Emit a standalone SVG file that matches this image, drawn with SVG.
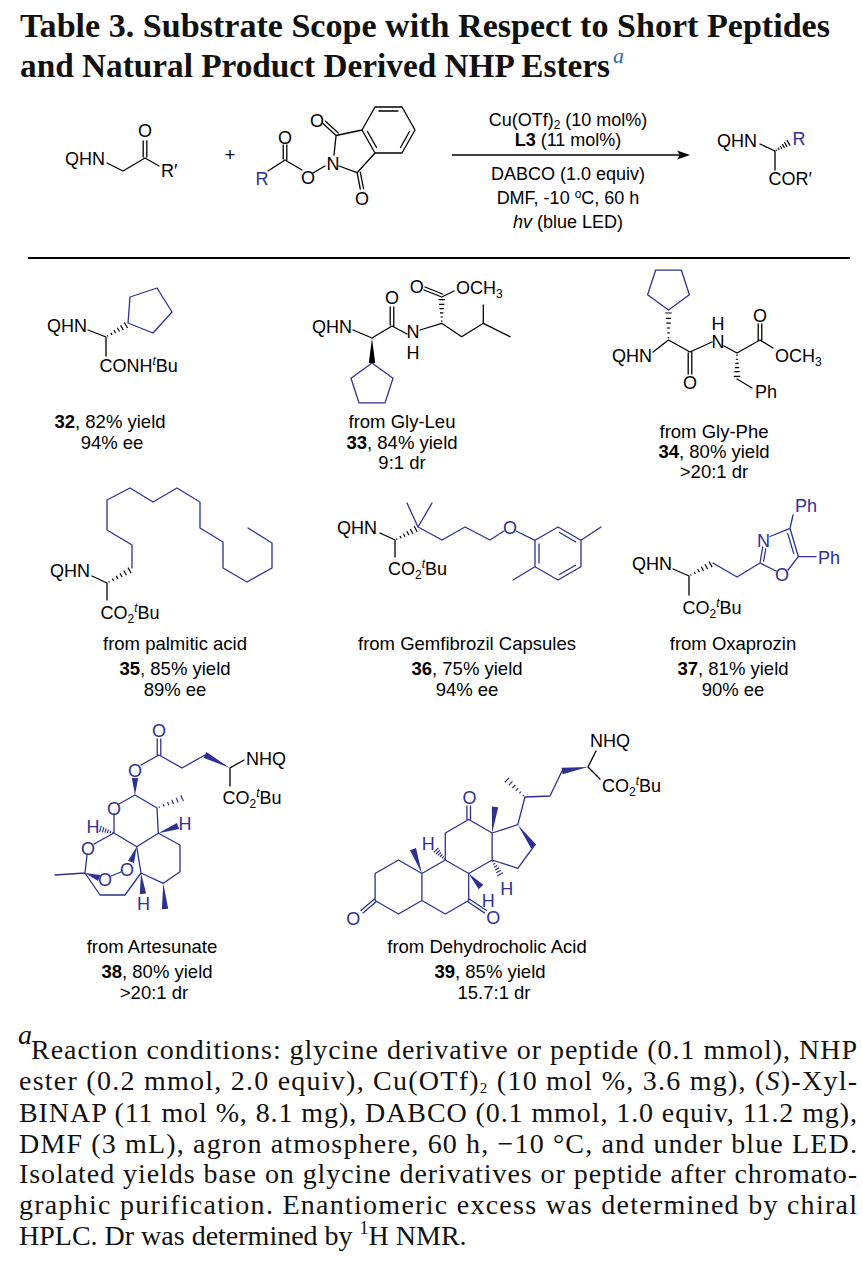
<svg xmlns="http://www.w3.org/2000/svg" xmlns:xlink="http://www.w3.org/1999/xlink" width="863" height="1277" viewBox="0 0 863 1277">
<style>
.k{stroke:#000;stroke-width:1.3;fill:none;stroke-linecap:round;stroke-linejoin:round}
.u{stroke:#2e3192;stroke-width:1.3;fill:none;stroke-linecap:round;stroke-linejoin:round}
.t{font-family:"Liberation Sans",Arial,sans-serif;font-size:18px;fill:#000}
.tu{fill:#2e3192}
.m{text-anchor:middle}
.lab{font-family:"Liberation Sans",Arial,sans-serif;font-size:18.5px;text-anchor:middle;fill:#000}
.fn{font-family:"Liberation Serif","Times New Roman",serif;font-size:28px;fill:#111}
.ttl{font-family:"Liberation Serif","Times New Roman",serif;font-weight:bold;font-size:33px;fill:#111}
.ck{color:#000}
.cu{color:#2e3192}
.sb{font-size:12px}
.it{font-style:italic}
</style>
<defs>
<g id="hs"><path d="M2,-0.7V0.7M6,-1.2V1.2M10,-1.7V1.7M14,-2.2V2.2M18,-2.7V2.7M22.5,-3.2V3.2" stroke="currentColor" stroke-width="1.2" vector-effect="non-scaling-stroke" fill="none"/></g>
<polygon id="wd" points="0,0 25,-3.2 25,3.2" fill="currentColor"/>
</defs>
<rect width="863" height="1277" fill="#fff"/>

<g id="title">
<text class="ttl" x="20" y="37" textLength="810" lengthAdjust="spacingAndGlyphs">Table 3. Substrate Scope with Respect to Short Peptides</text>
<text class="ttl" x="20" y="77" textLength="590" lengthAdjust="spacingAndGlyphs">and Natural Product Derived NHP Esters</text>
<text x="613" y="63" font-family="Liberation Serif, serif" font-style="italic" font-size="22" fill="#3366b0">a</text>
</g>

<g id="reactant-glycine">
<text class="t" x="65" y="164.5">QHN</text>
<path class="k" d="M107,163 L123,171 L145,158 L159,166 M143.2,157 V141 M146.8,157 V141"/>
<text class="t m" x="145" y="137">O</text>
<text class="t" x="161" y="177">R′</text>
</g>
<text id="plus" class="t m" x="230" y="161">+</text>

<g id="reactant-nhp">
<text class="t tu m" x="262" y="184.5">R</text>
<path class="k" d="M268,171 L285,160 L302,170 M283.2,159 V145 M286.8,160 V145 M313,173 L325,166"/>
<text class="t m" x="285" y="143.5">O</text>
<text class="t m" x="308" y="183.5">O</text>
<text class="t m" x="333" y="169.5">N</text>
<path class="k" d="M334,155 L336.1,135.5 L362,130 M339,166 L357.1,172.7 L375,153 M336.1,135.5 L323,123.5 M338.3,133.1 L325.5,121.3 M357.1,172.7 L360.3,189 M360.3,172.1 L363.5,188.5 M362,130 L375,107 L402,107 L415,130 L402,153 L375,153 Z M379,111 L398,111 M409.5,131.5 L400.5,147.5 M367.5,131.5 L376.5,147.5"/>
<text class="t m" x="317" y="126.5">O</text>
<text class="t m" x="362" y="204.5">O</text>
</g>

<g id="conditions">
<text class="t m" x="568" y="126">Cu(OTf)<tspan class="sb" dy="3">2</tspan><tspan dy="-3"> (10 mol%)</tspan></text>
<text class="t m" x="568" y="145.5"><tspan font-weight="bold">L3</tspan> (11 mol%)</text>
<text class="t m" x="568" y="179.5">DABCO (1.0 equiv)</text>
<text class="t m" x="568" y="204">DMF, -10 <tspan class="sb" dy="-6">o</tspan><tspan dy="6">C, 60 h</tspan></text>
<text class="t m" x="568" y="228"><tspan class="it">hv</tspan> (blue LED)</text>
</g>

<g id="connectors">
<line x1="452" y1="155" x2="680" y2="155" stroke="#000" stroke-width="1.6"/>
<polygon points="690,155 677,150.5 680,155 677,159.5" fill="#000"/>
</g>

<g id="product">
<text class="t" x="717" y="146.5">QHN</text>
<path class="k" d="M760,144 L775,151 V170"/>
<use xlink:href="#hs" class="ck" transform="translate(775,151) rotate(-31) scale(0.7,1)"/>
<text class="t tu m" x="799" y="144.5">R</text>
<text class="t" x="768.5" y="184.5">COR′</text>
</g>

<line id="rule" x1="28" y1="258" x2="850" y2="258" stroke="#000" stroke-width="2.2"/>

<g id="c32">
<text class="t" x="47" y="331.5">QHN</text>
<path class="k" d="M88,330 L106,337 V356"/>
<use xlink:href="#hs" class="ck" transform="translate(106,337) rotate(-30.6) scale(1.03,1)"/>
<path class="u" d="M128,323 L130,297 L157,288 L172,312 L153,333 Z"/>
<text class="t" x="99.5" y="371.5">CONH<tspan class="sb it" dy="-7">t</tspan><tspan dy="7">Bu</tspan></text>
<text class="lab" x="110" y="428"><tspan font-weight="bold">32</tspan>, 82% yield</text>
<text class="lab" x="112" y="449">94% ee</text>
</g>

<g id="c33">
<text class="t" x="312" y="332.5">QHN</text>
<path class="k" d="M353,330 L372,338 L392,326 L407,334 M390.2,325 V307 M393.8,326 V307 M420,330 L441.7,323.3 L461.7,336.7 L483.3,323.3 L483.3,305 M483.3,323.3 L510,336.7 M441.7,297 L424,290 M442.6,294 L425,287 M441.7,297 L454,291"/>
<use xlink:href="#wd" class="ck" transform="translate(372,338) rotate(90) scale(1,1)"/>
<use xlink:href="#hs" class="ck" transform="translate(441.7,323.3) rotate(-90) scale(1.05,1)"/>
<text class="t m" x="392" y="304">O</text>
<text class="t m" x="413" y="338">N</text>
<text class="t m" x="413" y="358.5">H</text>
<text class="t m" x="416.7" y="293">O</text>
<text class="t" x="456" y="293.5">OCH<tspan class="sb" dy="4">3</tspan></text>
<path class="u" d="M372,363 L393,378.2 L385,402.9 L359,402.9 L351,378.2 Z"/>
<text class="lab" x="402" y="428">from Gly-Leu</text>
<text class="lab" x="402" y="449"><tspan font-weight="bold">33</tspan>, 84% yield</text>
<text class="lab" x="402" y="469">9:1 dr</text>
</g>

<g id="c34">
<path class="u" d="M668.5,310 L689.4,294.8 L681.4,270.2 L655.6,270.2 L647.6,294.8 Z"/>
<use xlink:href="#hs" class="ck" transform="translate(668.5,340) rotate(-90) scale(1.2,1)"/>
<text class="t" x="612" y="361.5">QHN</text>
<path class="k" d="M653,352 L668.5,340 L690,352 L712,342 M688.2,353 V374 M691.8,352 V374 M724,346 L737,353 L760,340 L773,348 M758.2,341 V324 M761.8,340 V324 M737,379 L752,388"/>
<use xlink:href="#hs" class="ck" transform="translate(737,353) rotate(90) scale(1.04,1)"/>
<text class="t m" x="690" y="388.5">O</text>
<text class="t m" x="718" y="348">N</text>
<text class="t m" x="718" y="330">H</text>
<text class="t m" x="760" y="321.5">O</text>
<text class="t" x="775" y="361.5">OCH<tspan class="sb" dy="4">3</tspan></text>
<text class="t" x="755" y="398">Ph</text>
<text class="lab" x="714" y="438">from Gly-Phe</text>
<text class="lab" x="714" y="458"><tspan font-weight="bold">34</tspan>, 80% yield</text>
<text class="lab" x="714" y="478">&gt;20:1 dr</text>
</g>

<g id="c35">
<text class="t" x="50" y="576.5">QHN</text>
<path class="k" d="M92,576 L107,583 V600"/>
<use xlink:href="#hs" class="ck" transform="translate(107,583) rotate(-29.2) scale(1.15,1)"/>
<path class="u" d="M132,568 L132,545 L107,530 L107,500 L130,488 L153,502 L177,488 L200,502 L200,528 L223,542 L223,568 L247,582 L272,568 L272,543 L248,528"/>
<text class="t" x="100.5" y="618.5">CO<tspan class="sb" dy="4">2</tspan><tspan class="sb it" dy="-11">t</tspan><tspan dy="7">Bu</tspan></text>
<text class="lab" x="175" y="650">from palmitic acid</text>
<text class="lab" x="175" y="675"><tspan font-weight="bold">35</tspan>, 85% yield</text>
<text class="lab" x="175" y="696">89% ee</text>
</g>

<g id="c36">
<text class="t" x="337" y="533.5">QHN</text>
<path class="k" d="M380,533 L395,540 V557"/>
<use xlink:href="#hs" class="ck" transform="translate(395,540) rotate(-27.6) scale(1.04,1)"/>
<path class="u" d="M407,503 L418,527 L432,503 M418,527 L442,540 L465,527 L490,540 L504,531 M516,531 L535,540.3 M558,527 L581,540.3 L581,566.8 L558,580 L535,566.8 L535,540.3 Z M539,544 V563 M559.5,532.5 L575.5,541.8 M575.5,565.3 L559.5,574.5 M581,540.3 L601,527 M535,566.8 L513,580"/>
<text class="t tu m" x="510" y="533.5">O</text>
<text class="t" x="388" y="574.5">CO<tspan class="sb" dy="4">2</tspan><tspan class="sb it" dy="-11">t</tspan><tspan dy="7">Bu</tspan></text>
<text class="lab" x="467" y="650">from Gemfibrozil Capsules</text>
<text class="lab" x="467" y="675"><tspan font-weight="bold">36</tspan>, 75% yield</text>
<text class="lab" x="467" y="696">94% ee</text>
</g>

<g id="c37">
<text class="t" x="632" y="569.5">QHN</text>
<path class="k" d="M673,569 L689,576 V595"/>
<use xlink:href="#hs" class="ck" transform="translate(689,576) rotate(-28.4) scale(1.09,1)"/>
<path class="u" d="M713,563 L737,577 L760,563 M760,563 L762.7,547 M763.6,561 L765.8,549 M770,536.5 L790,528.3 L798.3,556.7 M787.8,533.6 L793.7,553.4 M798.3,556.7 L788,570 M776,571 L760,563 M790,528.3 L793,515 M798.3,556.7 L816,556.7"/>
<text class="t tu m" x="763.5" y="546.5">N</text>
<text class="t tu m" x="782" y="580.5">O</text>
<text class="t tu" x="795" y="511.5">Ph</text>
<text class="t tu" x="818" y="563.5">Ph</text>
<text class="t" x="682.5" y="613.5">CO<tspan class="sb" dy="4">2</tspan><tspan class="sb it" dy="-11">t</tspan><tspan dy="7">Bu</tspan></text>
<text class="lab" x="733" y="650">from Oxaprozin</text>
<text class="lab" x="733" y="675"><tspan font-weight="bold">37</tspan>, 81% yield</text>
<text class="lab" x="733" y="696">90% ee</text>
</g>

<g id="c38">
<path class="u" d="M159,755 L141,765 M157.2,755 V739 M160.8,755 V739 M159,755 L182,768 L205,755 M135,795 L119,804 M114,814 V833 L136.7,846.7 L158.3,833.3 L157,808 L135,795 M136.7,846.7 L158.3,833.3 L180,845 L180,871.7 L163.3,883.3 L141,873 Z M121,872 L111,876 M85,873 L55,875 M85,873 L87,855 M94,844 L114,833 M85,873 L100,895 L125,895 L141,873"/>
<use xlink:href="#wd" class="cu" transform="translate(230,768) rotate(-152.5) scale(1.13,1)"/>
<use xlink:href="#wd" class="cu" transform="translate(135,795) rotate(-90) scale(0.68,1)"/>
<use xlink:href="#hs" class="cu" transform="translate(157,808) rotate(-21.4) scale(1.2,1)"/>
<use xlink:href="#wd" class="cu" transform="translate(158.3,833.3) rotate(-20.3) scale(0.84,1)"/>
<use xlink:href="#hs" class="cu" transform="translate(114,833) rotate(-163.3) scale(0.63,1)"/>
<use xlink:href="#wd" class="cu" transform="translate(163.3,883.3) rotate(86.2) scale(1.03,1)"/>
<use xlink:href="#wd" class="cu" transform="translate(141,873) rotate(84.6) scale(0.84,1)"/>
<use xlink:href="#wd" class="cu" transform="translate(136.7,846.7) rotate(110.4) scale(0.65,1)"/>
<use xlink:href="#wd" class="cu" transform="translate(85,873) rotate(19.7) scale(0.6,1)"/>
<path class="k" d="M230,768 L244,760 M230,768 V786"/>
<text class="t tu m" x="159" y="736.5">O</text>
<text class="t tu m" x="135" y="776.5">O</text>
<text class="t tu m" x="114" y="814.5">O</text>
<text class="t tu m" x="185" y="830">H</text>
<text class="t tu m" x="93" y="832.5">H</text>
<text class="t tu m" x="143.5" y="909.5">H</text>
<text class="t tu m" x="127" y="875.5">O</text>
<text class="t tu m" x="105" y="885.5">O</text>
<text class="t tu m" x="88" y="854.5">O</text>
<text class="t" x="246" y="764.5">NHQ</text>
<text class="t" x="222.5" y="803.5">CO<tspan class="sb" dy="4">2</tspan><tspan class="sb it" dy="-11">t</tspan><tspan dy="7">Bu</tspan></text>
<text class="lab" x="152" y="953">from Artesunate</text>
<text class="lab" x="157" y="978"><tspan font-weight="bold">38</tspan>, 80% yield</text>
<text class="lab" x="154" y="999">&gt;20:1 dr</text>
</g>

<g id="c39">
<path class="u" d="M398.5,860 L421.9,873.5 L421.9,900.5 L398.5,914 L375.1,900.5 L375.1,873.5 Z M421.9,873.5 L445.3,860 L468.7,873.5 L468.7,900.5 L445.3,914 L421.9,900.5 M445.3,860 L445.3,833 L468.7,819.5 L492.1,833 L492.1,860 L468.7,873.5 M492.1,833 L517.8,824.7 M533.7,846.5 L517.8,868.3 L492.1,860 M374.1,899.3 L361,910.5 M376.1,901.7 L363,912.9 M469.6,899.2 L486.3,910.3 M467.8,901.8 L484.5,912.9 M466.9,819.5 V806 M470.5,819.5 V806 M517.8,824.7 L525,797 L550,796 L562,771"/>
<use xlink:href="#wd" class="cu" transform="translate(421.9,873.5) rotate(-110) scale(1.04,1)"/>
<use xlink:href="#wd" class="cu" transform="translate(492.1,833) rotate(-83.6) scale(1.05,1)"/>
<use xlink:href="#hs" class="cu" transform="translate(445.3,860) rotate(-133.1) scale(0.6,1)"/>
<use xlink:href="#wd" class="cu" transform="translate(468.7,873.5) rotate(47.7) scale(0.73,1)"/>
<use xlink:href="#hs" class="cu" transform="translate(492.1,860) rotate(60.9) scale(0.73,1)"/>
<use xlink:href="#wd" class="cu" transform="translate(517.8,824.7) rotate(53.9) scale(1.08,1)"/>
<use xlink:href="#hs" class="cu" transform="translate(525,797) rotate(-136.5) scale(1.1,1)"/>
<use xlink:href="#wd" class="cu" transform="translate(588,767) rotate(171.3) scale(1.05,1)"/>
<path class="k" d="M588,767 L596,751 M588,767 L600,779"/>
<text class="t tu m" x="353.3" y="924.8">O</text>
<text class="t tu m" x="493.3" y="923.5">O</text>
<text class="t tu m" x="469.5" y="803.5">O</text>
<text class="t tu m" x="428.3" y="850">H</text>
<text class="t tu m" x="488.3" y="906.5">H</text>
<text class="t tu m" x="506.7" y="894.8">H</text>
<text class="t" x="590" y="746.5">NHQ</text>
<text class="t" x="602" y="791.5">CO<tspan class="sb" dy="4">2</tspan><tspan class="sb it" dy="-11">t</tspan><tspan dy="7">Bu</tspan></text>
<text class="lab" x="487" y="953">from Dehydrocholic Acid</text>
<text class="lab" x="490" y="978"><tspan font-weight="bold">39</tspan>, 85% yield</text>
<text class="lab" x="494" y="999">15.7:1 dr</text>
</g>

<g id="footnote">
<text class="fn it" x="18" y="1044" font-size="19">a</text>
<text class="fn" x="31" y="1059" textLength="826">Reaction conditions: glycine derivative or peptide (0.1 mmol), NHP</text>
<text class="fn" x="19" y="1090" textLength="838">ester (0.2 mmol, 2.0 equiv), Cu(OTf)<tspan font-size="15" baseline-shift="-3">2</tspan> (10 mol %, 3.6 mg), (<tspan class="it">S</tspan>)-Xyl-</text>
<text class="fn" x="19" y="1122" textLength="838">BINAP (11 mol %, 8.1 mg), DABCO (0.1 mmol, 1.0 equiv, 11.2 mg),</text>
<text class="fn" x="19" y="1152.5" textLength="838">DMF (3 mL), agron atmosphere, 60 h, −10 °C, and under blue LED.</text>
<text class="fn" x="19" y="1183" textLength="838">Isolated yields base on glycine derivatives or peptide after chromato-</text>
<text class="fn" x="19" y="1214" textLength="838">graphic purification. Enantiomeric excess was determined by chiral</text>
<text class="fn" x="19" y="1245">HPLC. Dr was determined by <tspan font-size="18" baseline-shift="11">1</tspan>H NMR.</text>
</g>
</svg>
